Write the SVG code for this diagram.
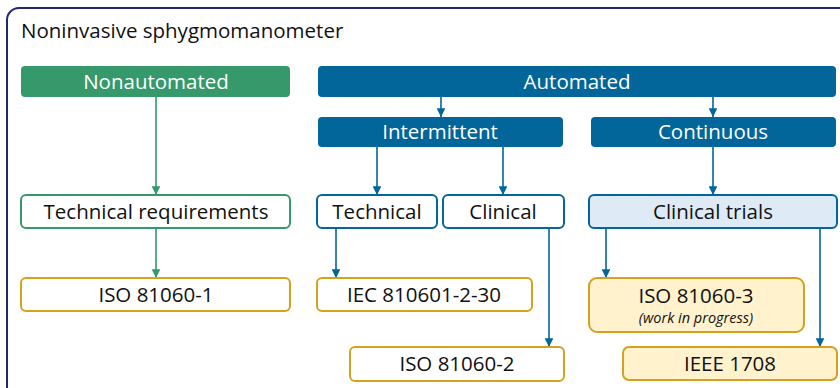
<svg xmlns="http://www.w3.org/2000/svg" width="840" height="388" viewBox="0 0 840 388">
<defs>
<style>
text{font-family:"Open Sans","Noto Sans","Liberation Sans",sans-serif;font-size:20.5px;text-anchor:middle}
.w{fill:#ffffff}
.k{fill:#111111}
.g{fill:#35996b}
.b{fill:#02669a}
.go{fill:#ffffff;stroke:#35996b;stroke-width:2}
.bo{fill:#ffffff;stroke:#02669a;stroke-width:2}
.bl{fill:#deebf7;stroke:#02669a;stroke-width:2}
.yo{fill:#ffffff;stroke:#d6a021;stroke-width:2}
.yf{fill:#fff2cc;stroke:#d6a021;stroke-width:2}
.cg{stroke:#35996b;stroke-width:1.6;fill:none;marker-end:url(#ag)}
.cb{stroke:#02669a;stroke-width:1.6;fill:none;marker-end:url(#ab)}
</style>
<marker id="ag" viewBox="0 0 10 10" refX="10" refY="5" markerWidth="5.5" markerHeight="5.5" orient="auto" markerUnits="strokeWidth"><path d="M0,0 L10,5 L0,10 z" fill="#35996b"/></marker>
<marker id="ab" viewBox="0 0 10 10" refX="10" refY="5" markerWidth="5.5" markerHeight="5.5" orient="auto" markerUnits="strokeWidth"><path d="M0,0 L10,5 L0,10 z" fill="#02669a"/></marker>
</defs>
<rect x="0" y="0" width="840" height="388" fill="#ffffff"/>
<rect id="frame" x="7" y="8" width="860" height="400" rx="12" fill="none" stroke="#1f2a6b" stroke-width="2"/>
<text x="21" y="38" class="k" style="text-anchor:start">Noninvasive sphygmomanometer</text>
<g id="connectors">
<path class="cg" d="M156,97 V195"/>
<path class="cg" d="M156,228 V278"/>
<path class="cb" d="M441,97 V117"/>
<path class="cb" d="M713,97 V117"/>
<path class="cb" d="M377,147 V195"/>
<path class="cb" d="M503,147 V195"/>
<path class="cb" d="M713,147 V195"/>
<path class="cb" d="M336,228 V278"/>
<path class="cb" d="M549,228 V347"/>
<path class="cb" d="M606,228 V278"/>
<path class="cb" d="M820,228 V347"/>
</g>
<g id="nonautomated"><rect x="21" y="66" width="269" height="31" rx="4" class="g"/><text x="156" y="89" class="w">Nonautomated</text></g>
<g id="automated"><rect x="318" y="66" width="518" height="31" rx="4" class="b"/><text x="577" y="89" class="w">Automated</text></g>
<g id="intermittent"><rect x="318" y="117" width="245" height="30" rx="4" class="b"/><text x="440" y="139" class="w">Intermittent</text></g>
<g id="continuous"><rect x="591" y="117" width="245" height="30" rx="4" class="b"/><text x="713" y="139" class="w">Continuous</text></g>
<g id="techreq"><rect x="21" y="195" width="269" height="33" rx="5" class="go"/><text x="156" y="219" class="k">Technical requirements</text></g>
<g id="technical"><rect x="317" y="195" width="120" height="33" rx="5" class="bo"/><text x="377" y="219" class="k">Technical</text></g>
<g id="clinical"><rect x="443" y="195" width="121" height="33" rx="5" class="bo"/><text x="503" y="219" class="k">Clinical</text></g>
<g id="clinicaltrials"><rect x="589" y="195" width="248" height="33" rx="5" class="bl"/><text x="713" y="219" class="k">Clinical trials</text></g>
<g id="iso1"><rect x="21" y="278" width="269" height="33" rx="5" class="yo"/><text x="156" y="302" class="k">ISO 81060-1</text></g>
<g id="iec"><rect x="317" y="278" width="215" height="33" rx="5" class="yo"/><text x="424" y="302" class="k">IEC 810601-2-30</text></g>
<g id="iso2"><rect x="350" y="347" width="214" height="34" rx="5" class="yo"/><text x="457" y="371" class="k">ISO 81060-2</text></g>
<g id="iso3"><rect x="589" y="278" width="215" height="54" rx="8" class="yf"/><text x="696" y="303" class="k">ISO 81060-3</text><text x="696" y="323" class="k" style="font-size:14.5px;font-style:italic">(work in progress)</text></g>
<g id="ieee"><rect x="623" y="347" width="214" height="33" rx="6" class="yf"/><text x="730" y="371" class="k">IEEE 1708</text></g>
</svg>
